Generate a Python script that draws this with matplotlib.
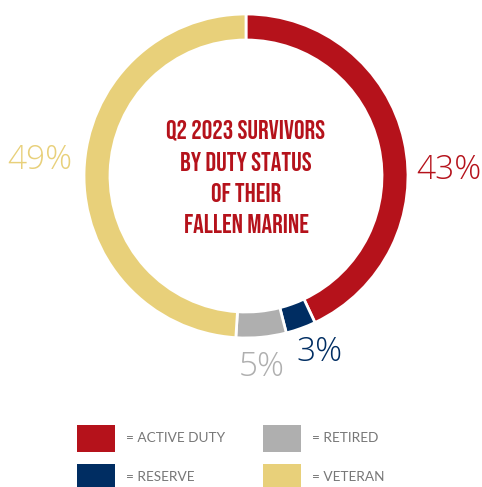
import numpy as np
import matplotlib.pyplot as plt
from matplotlib.patches import Rectangle
from matplotlib import font_manager

# ---------------------------------------------
# data
categories = ['ACTIVE DUTY', 'RESERVE', 'RETIRED', 'VETERAN']
shares = [43, 3, 5, 49]
pct_labels = ['43%', '3%', '5%', '49%']
colors = ['#B5121B', '#002D62', '#AFAFAF', '#E8D07A']
title_lines = ['Q2 2023 SURVIVORS', 'BY DUTY STATUS', 'OF THEIR', 'FALLEN MARINE']
# ---------------------------------------------


def first_font(names):
    for n in names:
        try:
            font_manager.findfont(font_manager.FontProperties(family=n), fallback_to_default=False)
            return n
        except Exception:
            pass
    return 'DejaVu Sans'


title_family = first_font(['Bebas Neue', 'Oswald', 'Roboto Condensed', 'Liberation Sans Narrow', 'DejaVu Sans'])

W, H = 482, 487
fig = plt.figure(figsize=(W / 100, H / 100), dpi=100)
ax = fig.add_axes([0, 0, 1, 1])

cx, cy = 246, 176
r_out = 162
ring = 26

# pie in inverted y: counterclock=True looks clockwise on screen
wedges, _ = ax.pie(shares, colors=colors, startangle=-90, counterclock=True,
                   center=(cx, cy), radius=r_out, frame=True,
                   wedgeprops=dict(width=ring, edgecolor='white', linewidth=2))
ax.set_xlim(0, W)
ax.set_ylim(H, 0)
ax.set_aspect('equal')
ax.axis('off')

# percent labels
pct_pos = [(449, 170), (320, 352), (262, 367), (40, 160)]
for lab, (x, y), c in zip(pct_labels, pct_pos, colors):
    ax.text(x, y, lab, color=c, fontsize=24, ha='center', va='center',
            fontweight='light', family=['Open Sans', 'DejaVu Sans'])

# centre title
for i, line in enumerate(title_lines):
    ax.text(cx, 130 + i * 31.3, line, color='#B5121B', fontsize=19,
            ha='center', va='center', fontweight='medium',
            family=[title_family, 'DejaVu Sans'], fontstretch='condensed')

# legend
leg_x = [77, 263]
leg_y = [425, 464]
for i, (cat, c) in enumerate(zip(categories, colors)):
    col = 0 if i in (0, 1) else 1
    row = 0 if i in (0, 2) else 1
    x0, y0 = leg_x[col], leg_y[row]
    ax.add_patch(Rectangle((x0, y0), 38, 27, facecolor=c, edgecolor='none'))
    ax.text(x0 + 49, y0 + 13, '= ' + cat, color='#777777', fontsize=9.8,
            ha='left', va='center', family=['Lato', 'DejaVu Sans'])

fig.savefig('out.png', dpi=100)
